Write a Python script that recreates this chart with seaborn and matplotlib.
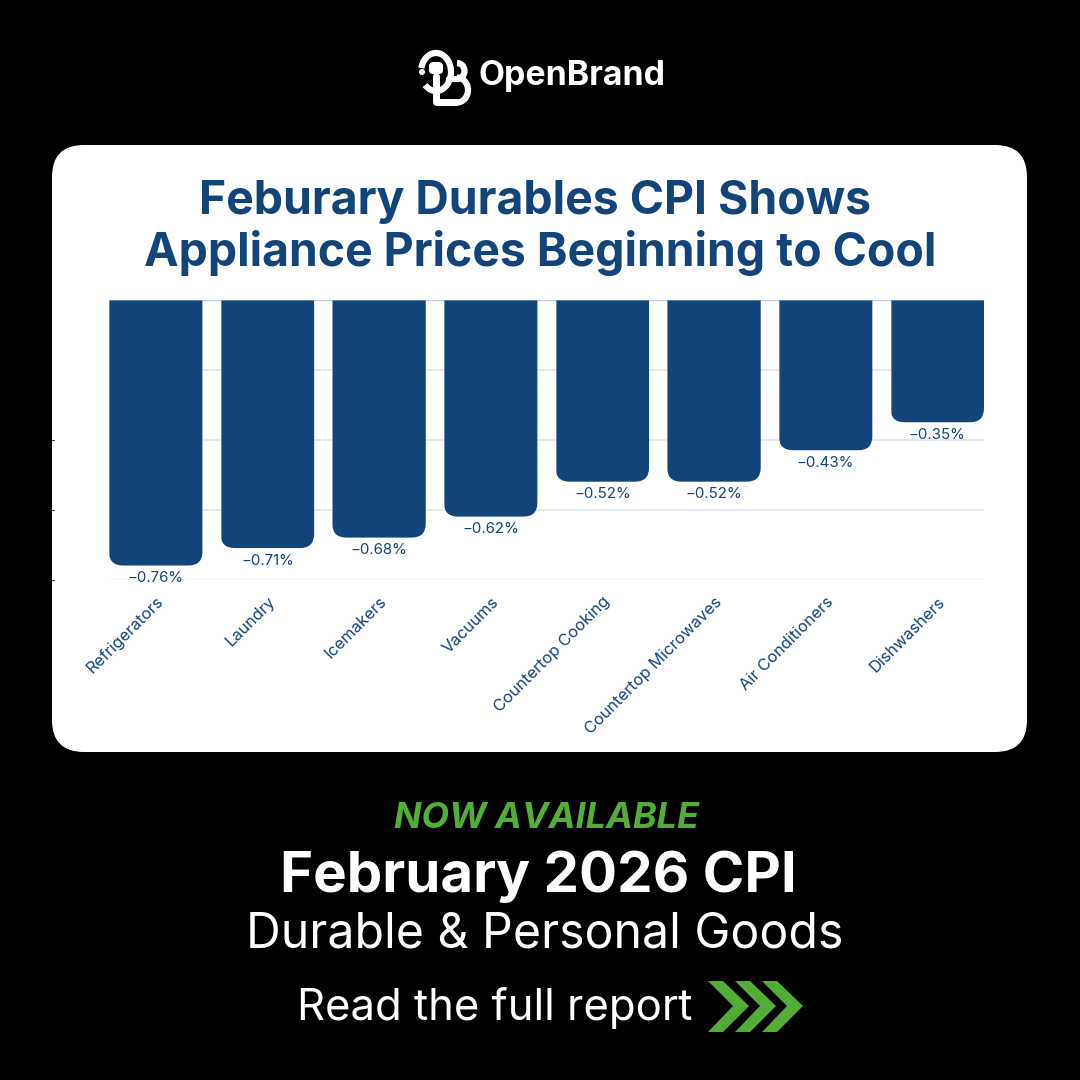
import matplotlib
matplotlib.use("Agg")
import matplotlib.pyplot as plt
import pandas as pd
import seaborn as sns
from matplotlib.patches import Arc, Circle, FancyBboxPatch, Polygon
from matplotlib.transforms import IdentityTransform

categories = ["Refrigerators", "Laundry", "Icemakers", "Vacuums", "Countertop Cooking",
              "Countertop Microwaves", "Air Conditioners", "Dishwashers"]
cpi_change = [-0.76, -0.71, -0.68, -0.62, -0.52, -0.52, -0.43, -0.35]
grid_values = [-0.2, -0.4, -0.6, -0.8]
title_lines = ["Feburary Durables CPI Shows", "Appliance Prices Beginning to Cool"]

NAVY = "#12447a"
GREEN = "#52ae37"
FONT = ["Inter", "DejaVu Sans"]

df = pd.DataFrame({"category": categories, "change": cpi_change})

sns.set_theme(style="white")
plt.rcParams["font.family"] = FONT

fig = plt.figure(figsize=(10.8, 10.8), dpi=100, facecolor="black")

# background layer, in pixel coords of the 1080 canvas
bg = fig.add_axes([0, 0, 1, 1], zorder=0)
bg.set_xlim(0, 1080)
bg.set_ylim(1080, 0)
bg.axis("off")
bg.add_patch(FancyBboxPatch((84, 177), 911, 543, boxstyle="round,pad=32,rounding_size=32",
                            fc="white", ec="none"))

# chart: x runs 109-984 px, y 300-579.5 px
ax = fig.add_axes([109 / 1080, 1 - 579.5 / 1080, 875 / 1080, 279.5 / 1080], zorder=1)
ax.patch.set_alpha(0)
sns.barplot(data=df, x="category", y="change", color=NAVY, saturation=1, width=0.837, ax=ax,
            edgecolor="#5f83a8", linewidth=0.6)
ax.set_xlim(-0.4185, 7.4185)
ax.set_ylim(-0.8, 0)
ax.set_xlabel("")
ax.set_ylabel("")
ax.set_yticks(grid_values)
ax.set_yticklabels([])
ax.tick_params(axis="y", length=0)
ax.tick_params(axis="x", length=0, pad=10.5)
sns.despine(ax=ax, left=True, bottom=True)
ax.set_axisbelow(True)
for v in grid_values:
    ax.axhline(v, color="#eef1f6" if v == -0.8 else "#dfe3ea", lw=1.1, zorder=0)
ax.axhline(0, color="#c5d0de", lw=1, zorder=0)
plt.setp(ax.get_xticklabels(), rotation=45, ha="right", rotation_mode="anchor",
         fontsize=11.8, color=NAVY)

labels = [f"{v:.2f}%".replace("-", "\u2212") for v in cpi_change]
ax.bar_label(ax.containers[0], labels=labels, padding=4, fontsize=10.8, color=NAVY)

# round the lower corners of the bars by clipping
fig.canvas.draw()
for bar in ax.containers[0]:
    box = bar.get_window_extent()
    clip = FancyBboxPatch((box.x0, box.y0), box.width, box.height + 40,
                          boxstyle="round,pad=0,rounding_size=14",
                          transform=IdentityTransform())
    bar.set_clip_path(clip)

# little axis ticks left over on the card edge
for y in [439.5, 509.5, 579.5]:
    bg.plot([52, 54], [y, y], color="#333333", lw=0.8)

# headline
for text, x, y in zip(title_lines, [535, 540], [202, 253]):
    bg.text(x, y, text, ha="center", va="center", fontsize=33.4, fontweight="bold", color=NAVY)

# logo
bg.add_patch(Arc((436, 72), 30, 38, theta1=195, theta2=130, ec="white", lw=4.5))
bg.add_patch(FancyBboxPatch((431, 64), 10, 8, boxstyle="round,pad=2,rounding_size=4",
                            fc="white", ec="none"))
bg.plot([436, 436, 456], [76, 102, 102], color="white", lw=5, solid_capstyle="round",
        solid_joinstyle="round")
bg.add_patch(Arc((457, 71), 15, 16, theta1=270, theta2=90, ec="white", lw=4.5))
bg.add_patch(Arc((457, 90), 22, 25, theta1=270, theta2=90, ec="white", lw=4.5))
bg.plot([449, 458], [79, 79], color="white", lw=4.5, solid_capstyle="round")
bg.add_patch(Circle((422, 72), 3, fc="white", ec="none"))
bg.text(478, 76, "OpenBrand", ha="left", va="center", fontsize=24.4, fontweight="bold",
        color="white")

# footer
bg.text(546, 819, "NOW AVAILABLE", ha="center", va="center", fontsize=25.9, fontweight="bold",
        fontstyle="italic", color=GREEN)
bg.text(538, 877, "February 2026 CPI", ha="center", va="center", fontsize=40.6,
        fontweight="bold", color="white")
bg.text(545, 935, "Durable & Personal Goods", ha="center", va="center", fontsize=34.7,
        color="white")
bg.text(297, 1008, "Read the full report", ha="left", va="center", fontsize=31.4, color="white")
for dx in [0, 27, 54]:
    pts = [(708, 981), (723, 981), (749, 1006), (723, 1032), (708, 1032), (733, 1006)]
    bg.add_patch(Polygon([(x + dx, y) for x, y in pts], fc=GREEN, ec="none"))

fig.savefig("out.png", dpi=100, facecolor="black")
